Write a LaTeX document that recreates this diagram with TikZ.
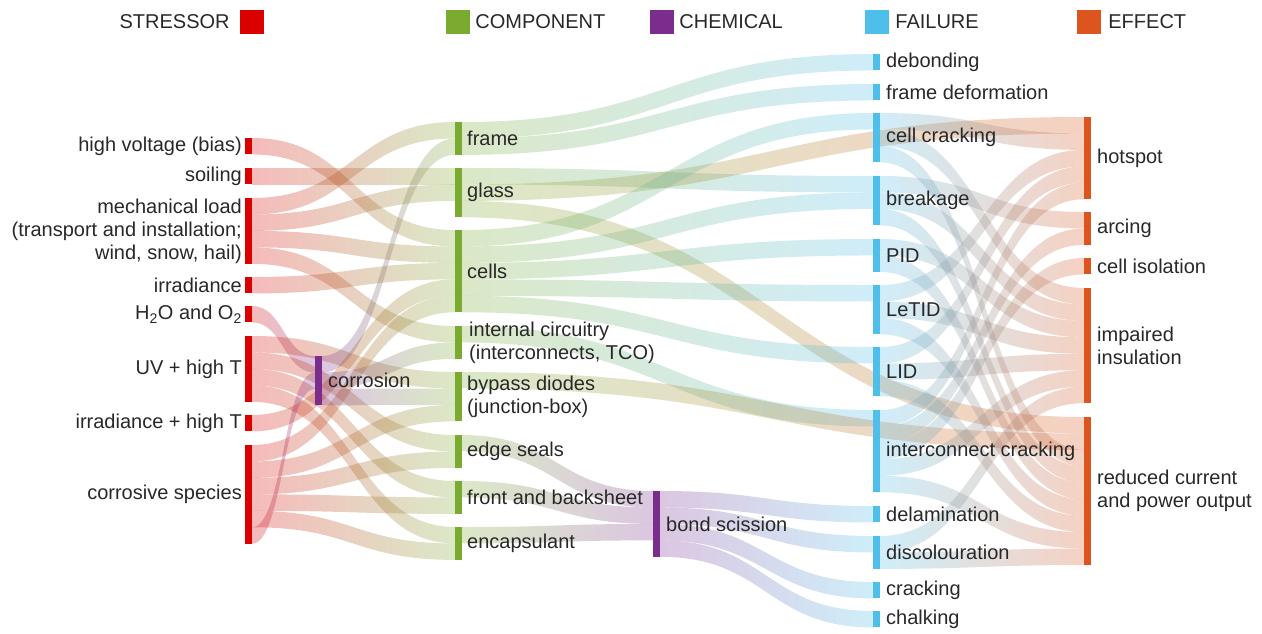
\documentclass[tikz,border=0pt]{standalone}
\usepackage{fontspec}
\setmainfont{Liberation Sans}
\usepackage{tikz}
\usetikzlibrary{positioning,calc,backgrounds}

\definecolor{cS}{RGB}{218,0,0}
\definecolor{cC}{RGB}{122,170,47}
\definecolor{cM}{RGB}{123,45,142}
\definecolor{cF}{RGB}{78,190,235}
\definecolor{cE}{RGB}{220,84,30}
\definecolor{txt}{RGB}{40,40,40}

\newcommand{\flowu}{16.45pt}
% band from slot #2 of node #1 to slot #4 of node #3
\newcommand{\flow}[6]{%
  \shade[left color=#5,right color=#6,opacity=.27]
    let \p1=($(#1.north east)+(0pt,-#2*\flowu)$),
        \p2=($(#3.north west)+(0pt,-#4*\flowu)$),
        \n1={0.5*\x1+0.5*\x2} in
    (\p1) .. controls (\n1,\y1) and (\n1,\y2) .. (\p2)
    -- ($(\p2)+(0pt,-\flowu)$) .. controls (\n1,\y2-\flowu) and (\n1,\y1-\flowu) .. ($(\p1)+(0pt,-\flowu)$) -- cycle;}

\tikzset{
  bar/.style={rectangle,inner sep=0pt,outer sep=0pt,minimum width=7pt,minimum height=#1*\flowu,anchor=north west},
  lbl/.style={inner sep=0pt,font=\fontsize{20}{23}\selectfont,text=txt},
  key/.style={rectangle,inner sep=0pt,minimum size=24pt},
}

\begin{document}
\begin{tikzpicture}[x=1pt,y=-1pt]
\useasboundingbox (0,0) rectangle (1262,633);

% legend
\node[key,fill=cS] (kS) at (252,22) {};
\node[lbl,left=10pt of kS] {STRESSOR};
\node[key,fill=cC] (kC) at (458,22) {};
\node[lbl,right=5pt of kC] {COMPONENT};
\node[key,fill=cM] (kM) at (662,22) {};
\node[lbl,right=5pt of kM] {CHEMICAL};
\node[key,fill=cF] (kF) at (877,22) {};
\node[lbl,right=6pt of kF] {FAILURE};
\node[key,fill=cE] (kE) at (1089,22) {};
\node[lbl,right=7pt of kE] {EFFECT};

% stressors
\node[bar=1,fill=cS] (hv) at (245,138) {};
\node[bar=1,fill=cS] (soil) at (245,168) {};
\node[bar=4,fill=cS] (mech) at (245,198) {};
\node[bar=1,fill=cS] (irr) at (245,277) {};
\node[bar=1,fill=cS] (hwo) at (245,306) {};
\node[bar=4,fill=cS] (uv) at (245,336) {};
\node[bar=1,fill=cS] (irrT) at (245,415) {};
\node[bar=6,fill=cS] (corrs) at (245,445) {};
% chemical
\node[bar=3,fill=cM] (corr) at (315,356) {};
\node[bar=4,fill=cM] (bond) at (653,491) {};
% components
\node[bar=2,fill=cC] (frame) at (455,122) {};
\node[bar=3,fill=cC] (glass) at (455,168) {};
\node[bar=5,fill=cC] (cells) at (455,230) {};
\node[bar=2,fill=cC] (intc) at (455,326) {};
\node[bar=3,fill=cC] (bypass) at (455,372) {};
\node[bar=2,fill=cC] (edge) at (455,435) {};
\node[bar=2,fill=cC] (fb) at (455,481) {};
\node[bar=2,fill=cC] (enc) at (455,527) {};
% failures
\node[bar=1,fill=cF] (deb) at (873,54) {};
\node[bar=1,fill=cF] (fdef) at (873,84) {};
\node[bar=3,fill=cF] (ccr) at (873,113) {};
\node[bar=3,fill=cF] (brk) at (873,176) {};
\node[bar=2,fill=cF] (pid) at (873,239) {};
\node[bar=3,fill=cF] (letid) at (873,285) {};
\node[bar=3,fill=cF] (lid) at (873,347) {};
\node[bar=5,fill=cF] (icr) at (873,410) {};
\node[bar=1,fill=cF] (delam) at (873,506) {};
\node[bar=2,fill=cF] (disc) at (873,536) {};
\node[bar=1,fill=cF] (crk) at (873,582) {};
\node[bar=1,fill=cF] (chalk) at (873,611) {};
% effects
\node[bar=5,fill=cE] (hot) at (1084,117) {};
\node[bar=2,fill=cE] (arc) at (1084,212) {};
\node[bar=1,fill=cE] (ciso) at (1084,258) {};
\node[bar=7,fill=cE] (imp) at (1084,288) {};
\node[bar=9,fill=cE] (redout) at (1084,417) {};

\begin{pgfonlayer}{background}
\flow{hv}{0}{cells}{0}{cS}{cC}
\flow{soil}{0}{glass}{0}{cS}{cC}
\flow{mech}{0}{frame}{0}{cS}{cC}
\flow{mech}{1}{glass}{1}{cS}{cC}
\flow{mech}{2}{cells}{1}{cS}{cC}
\flow{mech}{3}{intc}{0}{cS}{cC}
\flow{irr}{0}{cells}{2}{cS}{cC}
\flow{hwo}{0}{corr}{0}{cS}{cM}
\flow{uv}{0}{bypass}{0}{cS}{cC}
\flow{uv}{1}{edge}{0}{cS}{cC}
\flow{uv}{2}{fb}{0}{cS}{cC}
\flow{uv}{3}{enc}{0}{cS}{cC}
\flow{irrT}{0}{cells}{3}{cS}{cC}
\flow{corrs}{0}{cells}{4}{cS}{cC}
\flow{corrs}{1}{bypass}{2}{cS}{cC}
\flow{corrs}{2}{edge}{1}{cS}{cC}
\flow{corrs}{3}{fb}{1}{cS}{cC}
\flow{corrs}{4}{enc}{1}{cS}{cC}
\flow{corrs}{5}{corr}{1}{cS}{cM}
\flow{corr}{0}{frame}{1}{cM}{cC}
\flow{corr}{1}{intc}{1}{cM}{cC}
\flow{corr}{2}{bypass}{1}{cM}{cC}

\flow{frame}{0}{deb}{0}{cC}{cF}
\flow{frame}{1}{fdef}{0}{cC}{cF}
\flow{glass}{0}{brk}{0}{cC}{cF}
\flow{glass}{1}{hot}{0}{cC}{cE}
\flow{glass}{2}{redout}{0}{cC}{cE}
\flow{cells}{0}{ccr}{0}{cC}{cF}
\flow{cells}{1}{brk}{1}{cC}{cF}
\flow{cells}{2}{pid}{0}{cC}{cF}
\flow{cells}{3}{letid}{0}{cC}{cF}
\flow{cells}{4}{lid}{0}{cC}{cF}
\flow{intc}{0}{icr}{0}{cC}{cF}
\flow{bypass}{0}{redout}{1}{cC}{cE}
\flow{edge}{0}{bond}{0}{cC}{cM}
\flow{fb}{0}{bond}{1}{cC}{cM}
\flow{enc}{0}{bond}{2}{cC}{cM}
\flow{bond}{0}{delam}{0}{cM}{cF}
\flow{bond}{1}{disc}{0}{cM}{cF}
\flow{bond}{2}{crk}{0}{cM}{cF}
\flow{bond}{3}{chalk}{0}{cM}{cF}

\flow{ccr}{0}{hot}{1}{cF}{cE}
\flow{ccr}{1}{imp}{0}{cF}{cE}
\flow{ccr}{2}{redout}{2}{cF}{cE}
\flow{brk}{0}{arc}{0}{cF}{cE}
\flow{brk}{1}{imp}{1}{cF}{cE}
\flow{brk}{2}{redout}{3}{cF}{cE}
\flow{pid}{0}{imp}{2}{cF}{cE}
\flow{pid}{1}{redout}{4}{cF}{cE}
\flow{letid}{0}{hot}{2}{cF}{cE}
\flow{letid}{1}{imp}{3}{cF}{cE}
\flow{letid}{2}{redout}{5}{cF}{cE}
\flow{lid}{0}{hot}{3}{cF}{cE}
\flow{lid}{1}{imp}{4}{cF}{cE}
\flow{lid}{2}{redout}{6}{cF}{cE}
\flow{icr}{0}{hot}{4}{cF}{cE}
\flow{icr}{1}{arc}{1}{cF}{cE}
\flow{icr}{2}{ciso}{0}{cF}{cE}
\flow{icr}{3}{imp}{5}{cF}{cE}
\flow{icr}{4}{redout}{7}{cF}{cE}
\flow{disc}{0}{imp}{6}{cF}{cE}
\flow{disc}{1}{redout}{8}{cF}{cE}
\end{pgfonlayer}

% labels
\node[lbl,left=3pt of hv] {high voltage (bias)};
\node[lbl,left=3pt of soil] {soiling};
\node[lbl,left=3pt of mech,align=right] {mechanical load\\(transport and installation;\\wind, snow, hail)};
\node[lbl,left=3pt of irr] {irradiance};
\node[lbl,left=3pt of hwo] {H\textsubscript{2}O and O\textsubscript{2}};
\node[lbl,left=3pt of uv] {UV + high T};
\node[lbl,left=3pt of irrT] {irradiance + high T};
\node[lbl,left=3pt of corrs] {corrosive species};
\node[lbl,right=6pt of corr] {corrosion};
\node[lbl,right=6pt of bond] {bond scission};
\node[lbl,right=5pt of frame] {frame};
\node[lbl,right=5pt of glass] {glass};
\node[lbl,right=5pt of cells] {cells};
\node[lbl,right=7pt of intc,align=left] {internal circuitry\\(interconnects, TCO)};
\node[lbl,right=5pt of bypass,align=left] {bypass diodes\\(junction-box)};
\node[lbl,right=5pt of edge] {edge seals};
\node[lbl,right=5pt of fb] {front and backsheet};
\node[lbl,right=5pt of enc] {encapsulant};
\node[lbl,right=6pt of deb] {debonding};
\node[lbl,right=6pt of fdef] {frame deformation};
\node[lbl,right=6pt of ccr] {cell cracking};
\node[lbl,right=6pt of brk] {breakage};
\node[lbl,right=6pt of pid] {PID};
\node[lbl,right=6pt of letid] {LeTID};
\node[lbl,right=6pt of lid] {LID};
\node[lbl,right=6pt of icr] {interconnect cracking};
\node[lbl,right=6pt of delam] {delamination};
\node[lbl,right=6pt of disc] {discolouration};
\node[lbl,right=6pt of crk] {cracking};
\node[lbl,right=6pt of chalk] {chalking};
\node[lbl,right=6pt of hot] {hotspot};
\node[lbl,right=6pt of arc] {arcing};
\node[lbl,right=6pt of ciso] {cell isolation};
\node[lbl,right=6pt of imp,align=left] {impaired\\insulation};
\node[lbl,right=6pt of redout,align=left] {reduced current\\and power output};
\end{tikzpicture}
\end{document}
